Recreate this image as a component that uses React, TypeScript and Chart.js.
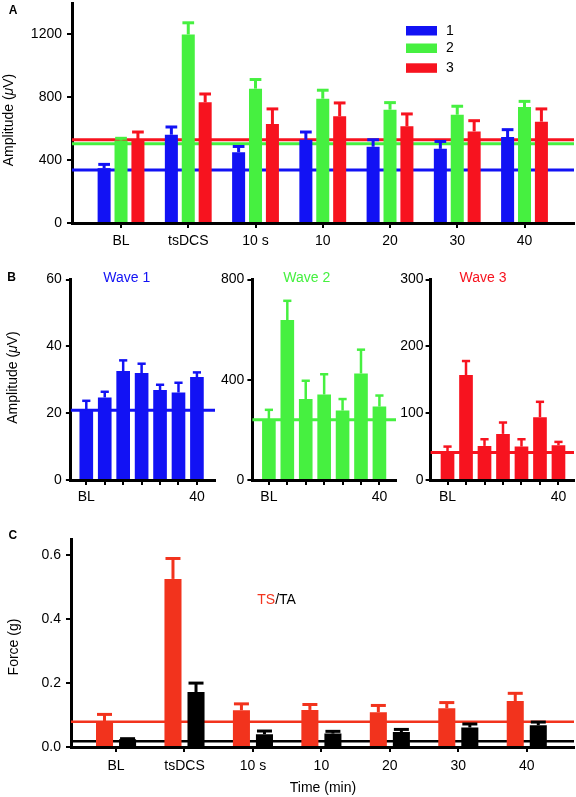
import React, { useEffect, useRef } from 'react';
import { Chart, registerables } from 'chart.js';

Chart.register(...registerables);

const FONT = "'Liberation Sans', Arial, Helvetica, sans-serif";
Chart.defaults.font.family = FONT;
Chart.defaults.color = '#000';

// ---------- data ----------
const timeLabels = ['BL', 'tsDCS', '10 s', '10', '20', '30', '40'];
const seriesNamesA = ['1', '2', '3'];

// Panel A (amplitude, µV)
const aWave1Mean = [349, 562, 451, 530, 485, 472, 547];
const aWave1Sem = [24, 49, 36, 49, 45, 47, 47];
const aWave2Mean = [525, 1200, 855, 791, 721, 689, 738];
const aWave2Sem = [14, 74, 58, 54, 45, 54, 36];
const aWave3Mean = [534, 768, 630, 679, 615, 583, 645];
const aWave3Sem = [45, 53, 96, 85, 79, 68, 81];
const aBaselines = [338, 504, 530];
const aTicks = [0, 400, 800, 1200];

// Panel B
const bWave1Mean = [20.9, 24.7, 32.6, 32.0, 26.9, 26.2, 30.8];
const bWave1Sem = [2.8, 1.7, 3.2, 2.8, 1.6, 2.9, 1.4];
const bWave1Base = 20.9;
const bWave1Ticks = [0, 20, 40, 60];
const bWave2Mean = [238, 638, 323, 341, 277, 425, 293];
const bWave2Sem = [42, 77, 73, 81, 46, 95, 44];
const bWave2Base = 240;
const bWave2Ticks = [0, 400, 800];
const bWave3Mean = [41, 157, 51, 69, 50, 94, 52];
const bWave3Sem = [9, 21, 10, 17, 11, 23, 5];
const bWave3Base = 41;
const bWave3Ticks = [0, 100, 200, 300];

// Panel C (force, g)
const cTsMean = [0.081, 0.526, 0.115, 0.116, 0.109, 0.121, 0.144];
const cTsSem = [0.021, 0.064, 0.02, 0.017, 0.021, 0.018, 0.024];
const cTaMean = [0.024, 0.172, 0.04, 0.042, 0.047, 0.061, 0.068];
const cTaSem = [0.002, 0.028, 0.01, 0.007, 0.008, 0.011, 0.01];
const cBaselines = [0.079, 0.018];
const cTicks = [0, 0.2, 0.4, 0.6];

// ---------- styles ----------
const BLUE = '#1212f4';
const GREEN = '#46f040';
const RED = '#f7131f';
const TSRED = '#f2331d';
const BLACK = '#000000';

type Part = { text: string; color?: string; italic?: boolean };
type TextItem = { x: number; y: number; parts: Part[]; size: number; bold?: boolean; align?: 'left' | 'center'; rot?: number };
type Spec = {
  left: number; top: number; width: number; height: number;
  datasets: { label: string; data: number[]; sem: number[]; color: string }[];
  baselines: { value: number; color: string }[];
  xMin: number; xMax: number; yMax: number; yTicks: number[];
  yFmt: (v: number) => string; xLabel: (i: number) => string;
  padding: { top: number; right: number; left: number; bottom: number };
  yWidth: number; xHeight: number; yTickPad: number; xTickPad: number;
  catPct: number; barPct: number; errWidth: number; capFrac: number; lineWidth: number;
  texts: TextItem[];
  legend?: { x: number; tops: number[]; w: number; h: number; labelX: number };
};

function BarPanel({ spec }: { spec: Spec }) {
  const ref = useRef<HTMLCanvasElement>(null);
  useEffect(() => {
    const s = spec;
    const canvas = ref.current as HTMLCanvasElement;
    const gridOpts = { display: true, offset: false, drawOnChartArea: false, drawTicks: true, tickLength: 5, color: '#000', lineWidth: 2 };
    const borderOpts = { display: true, color: '#000', width: 3 };
    const tickFont = { size: 14, family: FONT };

    const baselinePlugin = {
      id: 'baselines',
      beforeDatasetsDraw(chart: any) {
        const { ctx, chartArea } = chart;
        const y = chart.scales.y;
        s.baselines.forEach((b) => {
          const py = y.getPixelForValue(b.value);
          ctx.save();
          ctx.strokeStyle = b.color;
          ctx.lineWidth = s.lineWidth;
          ctx.beginPath();
          ctx.moveTo(chartArea.left, py);
          ctx.lineTo(chartArea.right, py);
          ctx.stroke();
          ctx.restore();
        });
      },
    };

    const errPlugin = {
      id: 'errbars',
      afterDatasetsDraw(chart: any) {
        const { ctx } = chart;
        const y = chart.scales.y;
        s.datasets.forEach((d, di) => {
          const meta = chart.getDatasetMeta(di);
          meta.data.forEach((bar: any, i: number) => {
            const { x, width } = bar.getProps(['x', 'width'], true);
            const base = y.getPixelForValue(d.data[i]);
            const top = y.getPixelForValue(d.data[i] + d.sem[i]);
            ctx.save();
            ctx.strokeStyle = d.color;
            ctx.lineWidth = s.errWidth;
            ctx.beginPath();
            ctx.moveTo(x, base);
            ctx.lineTo(x, top);
            ctx.stroke();
            const hw = (width * s.capFrac) / 2;
            ctx.beginPath();
            ctx.moveTo(x - hw, top);
            ctx.lineTo(x + hw, top);
            ctx.stroke();
            ctx.restore();
          });
        });
      },
    };

    const textPlugin = {
      id: 'texts',
      afterDraw(chart: any) {
        const { ctx } = chart;
        s.texts.forEach((t) => {
          ctx.save();
          ctx.textBaseline = 'middle';
          ctx.textAlign = 'left';
          const fontFor = (p: Part) => `${p.italic ? 'italic ' : ''}${t.bold ? 'bold ' : ''}${t.size}px ${FONT}`;
          let total = 0;
          t.parts.forEach((p) => { ctx.font = fontFor(p); total += ctx.measureText(p.text).width; });
          ctx.translate(t.x, t.y);
          if (t.rot) ctx.rotate(t.rot);
          let x = t.align === 'left' ? 0 : -total / 2;
          t.parts.forEach((p) => {
            ctx.font = fontFor(p);
            ctx.fillStyle = p.color || '#000';
            ctx.fillText(p.text, x, 0);
            x += ctx.measureText(p.text).width;
          });
          ctx.restore();
        });
        if (s.legend) {
          const L = s.legend;
          s.datasets.forEach((d, i) => {
            ctx.save();
            ctx.fillStyle = d.color;
            ctx.fillRect(L.x, L.tops[i], L.w, L.h);
            ctx.fillStyle = '#000';
            ctx.font = `14px ${FONT}`;
            ctx.textBaseline = 'middle';
            ctx.textAlign = 'left';
            ctx.fillText(d.label, L.labelX, L.tops[i] + L.h / 2);
            ctx.restore();
          });
        }
      },
    };

    const chart = new Chart(canvas, {
      type: 'bar',
      data: {
        datasets: s.datasets.map((d) => ({
          label: d.label,
          data: d.data.map((v, i) => ({ x: i, y: v })),
          backgroundColor: d.color,
          borderWidth: 0,
          categoryPercentage: s.catPct,
          barPercentage: s.barPct,
        })) as any,
      },
      options: {
        responsive: false,
        animation: false,
        events: [],
        layout: { padding: s.padding, autoPadding: false } as any,
        plugins: { legend: { display: false }, tooltip: { enabled: false }, title: { display: false } },
        scales: {
          x: {
            type: 'linear',
            offset: false,
            min: s.xMin,
            max: s.xMax,
            afterBuildTicks: (ax: any) => { ax.ticks = timeLabels.map((_, i) => ({ value: i })); },
            afterFit: (ax: any) => { ax.height = s.xHeight; ax.paddingLeft = 0; ax.paddingRight = 0; },
            ticks: {
              autoSkip: false, maxRotation: 0, minRotation: 0, padding: s.xTickPad, color: '#000', font: tickFont,
              callback: (v: any) => s.xLabel(Math.round(Number(v))),
            },
            grid: gridOpts as any,
            border: borderOpts as any,
          } as any,
          y: {
            type: 'linear',
            min: 0,
            max: s.yMax,
            afterBuildTicks: (ax: any) => { ax.ticks = s.yTicks.map((v) => ({ value: v })); },
            afterFit: (ax: any) => { ax.width = s.yWidth; ax.paddingTop = 0; ax.paddingBottom = 0; },
            ticks: {
              autoSkip: false, padding: s.yTickPad, color: '#000', font: tickFont,
              callback: (v: any) => s.yFmt(Number(v)),
            },
            grid: gridOpts as any,
            border: borderOpts as any,
          } as any,
        },
      },
      plugins: [baselinePlugin, errPlugin, textPlugin],
    });
    return () => chart.destroy();
  }, [spec]);
  return (
    <canvas
      ref={ref}
      width={spec.width}
      height={spec.height}
      style={{ position: 'absolute', left: spec.left, top: spec.top, width: spec.width, height: spec.height }}
    />
  );
}

const ROT = -Math.PI / 2;
const ampTitle = (x: number, y: number): TextItem => ({
  x, y, size: 14, rot: ROT,
  parts: [{ text: 'Amplitude (' }, { text: 'μ', italic: true }, { text: 'V)' }],
});

const specA: Spec = {
  left: 0, top: 0, width: 576, height: 262,
  datasets: [
    { label: seriesNamesA[0], data: aWave1Mean, sem: aWave1Sem, color: BLUE },
    { label: seriesNamesA[1], data: aWave2Mean, sem: aWave2Sem, color: GREEN },
    { label: seriesNamesA[2], data: aWave3Mean, sem: aWave3Sem, color: RED },
  ],
  baselines: [
    { value: aBaselines[0], color: BLUE },
    { value: aBaselines[1], color: GREEN },
    { value: aBaselines[2], color: RED },
  ],
  xMin: -0.729, xMax: 6.736, yMax: 1400, yTicks: aTicks,
  yFmt: (v) => String(v), xLabel: (i) => timeLabels[i] ?? '',
  padding: { top: 3, right: 2, left: 0, bottom: 0 },
  yWidth: 72, xHeight: 39, yTickPad: 5, xTickPad: 5,
  catPct: 0.754, barPct: 0.77, errWidth: 3, capFrac: 0.9, lineWidth: 3,
  texts: [
    { x: 13, y: 11, size: 12, bold: true, parts: [{ text: 'A' }] },
    ampTitle(9.5, 120),
  ],
  legend: { x: 406, tops: [26, 43.5, 63.3], w: 31, h: 9.5, labelX: 446 },
};

const bLabel = (i: number) => (i === 0 || i === timeLabels.length - 1 ? timeLabels[i] : '');

const specB1: Spec = {
  left: 0, top: 262, width: 220, height: 258,
  datasets: [{ label: 'Wave 1', data: bWave1Mean, sem: bWave1Sem, color: BLUE }],
  baselines: [{ value: bWave1Base, color: BLUE }],
  xMin: -0.835, xMax: 6.98, yMax: 60, yTicks: bWave1Ticks,
  yFmt: (v) => String(v), xLabel: bLabel,
  padding: { top: 17.5, right: 5, left: 0, bottom: 0 },
  yWidth: 70.9, xHeight: 40, yTickPad: 4, xTickPad: 3.3,
  catPct: 1, barPct: 0.74, errWidth: 2.5, capFrac: 0.6, lineWidth: 3,
  texts: [
    { x: 11.7, y: 16, size: 12, bold: true, parts: [{ text: 'B' }] },
    { x: 126.7, y: 16.3, size: 14, parts: [{ text: 'Wave 1', color: BLUE }] },
    ampTitle(13, 115.5),
  ],
};

const specB2: Spec = {
  left: 220, top: 262, width: 180, height: 258,
  datasets: [{ label: 'Wave 2', data: bWave2Mean, sem: bWave2Sem, color: GREEN }],
  baselines: [{ value: bWave2Base, color: GREEN }],
  xMin: -0.895, xMax: 6.9, yMax: 800, yTicks: bWave2Ticks,
  yFmt: (v) => String(v), xLabel: bLabel,
  padding: { top: 17.5, right: 4, left: 0, bottom: 0 },
  yWidth: 32.4, xHeight: 40, yTickPad: 3, xTickPad: 3.3,
  catPct: 1, barPct: 0.74, errWidth: 2.5, capFrac: 0.6, lineWidth: 3,
  texts: [{ x: 86.8, y: 16.3, size: 14, parts: [{ text: 'Wave 2', color: GREEN }] }],
};

const specB3: Spec = {
  left: 400, top: 262, width: 176, height: 258,
  datasets: [{ label: 'Wave 3', data: bWave3Mean, sem: bWave3Sem, color: RED }],
  baselines: [{ value: bWave3Base, color: RED }],
  xMin: -0.915, xMax: 6.84, yMax: 300, yTicks: bWave3Ticks,
  yFmt: (v) => String(v), xLabel: bLabel,
  padding: { top: 17.5, right: 2, left: 0, bottom: 0 },
  yWidth: 30.6, xHeight: 40, yTickPad: 2, xTickPad: 3.3,
  catPct: 1, barPct: 0.74, errWidth: 2.5, capFrac: 0.6, lineWidth: 3,
  texts: [{ x: 83, y: 16.3, size: 14, parts: [{ text: 'Wave 3', color: RED }] }],
};

const specC: Spec = {
  left: 0, top: 520, width: 576, height: 277,
  datasets: [
    { label: 'TS', data: cTsMean, sem: cTsSem, color: TSRED },
    { label: 'TA', data: cTaMean, sem: cTaSem, color: BLACK },
  ],
  baselines: [
    { value: cBaselines[0], color: TSRED },
    { value: cBaselines[1], color: BLACK },
  ],
  xMin: -0.658, xMax: 6.69, yMax: 0.65, yTicks: cTicks,
  yFmt: (v) => v.toFixed(1), xLabel: (i) => timeLabels[i] ?? '',
  padding: { top: 19.3, right: 2, left: 0, bottom: 0 },
  yWidth: 71, xHeight: 50, yTickPad: 5, xTickPad: 5.6,
  catPct: 0.673, barPct: 0.74, errWidth: 3, capFrac: 0.88, lineWidth: 2.7,
  texts: [
    { x: 12.8, y: 16, size: 12, bold: true, parts: [{ text: 'C' }] },
    { x: 257.3, y: 80, size: 14, align: 'left', parts: [{ text: 'TS', color: TSRED }, { text: '/TA', color: '#000' }] },
    { x: 14.3, y: 127, size: 14, rot: ROT, parts: [{ text: 'Force (g)' }] },
    { x: 323, y: 268, size: 14, parts: [{ text: 'Time (min)' }] },
  ],
};

export default function App() {
  return (
    <div style={{ position: 'absolute', left: 0, top: 0, width: 576, height: 797, background: '#fff', overflow: 'hidden' }}>
      <BarPanel spec={specA} />
      <BarPanel spec={specB1} />
      <BarPanel spec={specB2} />
      <BarPanel spec={specB3} />
      <BarPanel spec={specC} />
    </div>
  );
}
